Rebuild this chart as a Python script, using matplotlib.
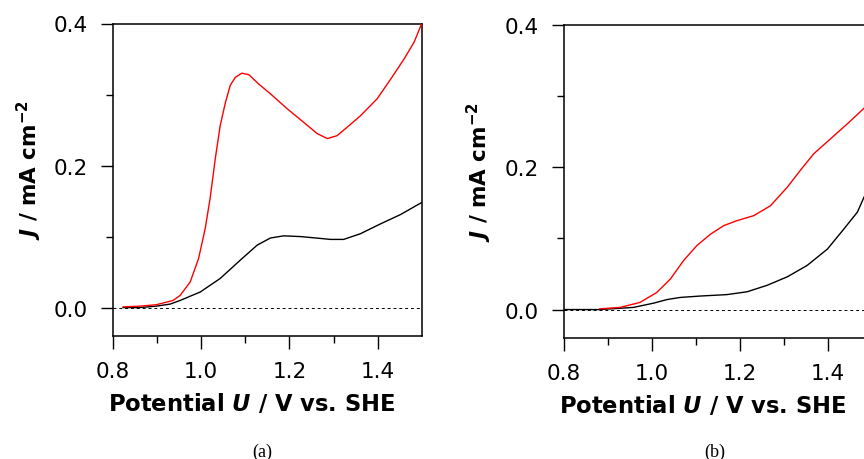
import numpy as np
import matplotlib
matplotlib.use("Agg")
import matplotlib.pyplot as plt

plt.rcParams['font.family'] = ['DejaVu Sans']
plt.rcParams['mathtext.fontset'] = 'custom'
plt.rcParams['mathtext.it'] = 'DejaVu Sans:italic:bold'
plt.rcParams['mathtext.rm'] = 'DejaVu Sans:bold'
plt.rcParams['mathtext.bf'] = 'DejaVu Sans:bold'

# panel (a)
a_red_u = [0.823, 0.86, 0.898, 0.936, 0.952, 0.975, 0.994, 1.009, 1.020, 1.032, 1.043,
           1.055, 1.066, 1.077, 1.092, 1.108, 1.130, 1.157, 1.195, 1.232, 1.263, 1.286,
           1.308, 1.331, 1.361, 1.399, 1.430, 1.460, 1.483, 1.5]
a_red_j = [0.001, 0.002, 0.004, 0.010, 0.017, 0.036, 0.069, 0.111, 0.153, 0.210, 0.256,
           0.289, 0.313, 0.324, 0.330, 0.328, 0.315, 0.301, 0.280, 0.261, 0.245, 0.238,
           0.242, 0.254, 0.270, 0.294, 0.322, 0.350, 0.374, 0.400]
a_blk_u = [0.823, 0.86, 0.898, 0.93, 0.952, 0.998, 1.043, 1.089, 1.127, 1.157, 1.187,
           1.225, 1.260, 1.293, 1.323, 1.361, 1.407, 1.452, 1.5]
a_blk_j = [0.000, 0.000, 0.002, 0.005, 0.010, 0.022, 0.041, 0.067, 0.088, 0.098, 0.101,
           0.100, 0.098, 0.096, 0.096, 0.104, 0.118, 0.131, 0.148]

# panel (b)
b_red_u = [0.882, 0.928, 0.973, 1.011, 1.042, 1.072, 1.102, 1.133, 1.163, 1.193, 1.231,
           1.269, 1.307, 1.337, 1.367, 1.405, 1.443, 1.481, 1.5]
b_red_j = [0.001, 0.003, 0.010, 0.024, 0.043, 0.069, 0.090, 0.106, 0.118, 0.125, 0.132,
           0.146, 0.172, 0.196, 0.219, 0.240, 0.261, 0.283, 0.294]
b_blk_u = [0.80, 0.882, 0.958, 1.004, 1.034, 1.064, 1.110, 1.170, 1.216, 1.261, 1.307,
           1.352, 1.398, 1.435, 1.466, 1.481, 1.5]
b_blk_j = [0.000, 0.000, 0.003, 0.009, 0.014, 0.017, 0.019, 0.021, 0.025, 0.034, 0.046,
           0.062, 0.085, 0.113, 0.137, 0.158, 0.180]

x_ticks = [0.8, 1.0, 1.2, 1.4]
x_minor = [0.9, 1.1, 1.3]
y_ticks = [0.0, 0.2, 0.4]
y_minor = [0.1, 0.3]

panels = [
    ("(a)", a_red_u, a_red_j, a_blk_u, a_blk_j, [113, 24.5, 308.7, 312.5], 262),
    ("(b)", b_red_u, b_red_j, b_blk_u, b_blk_j, [563.7, 26, 308.7, 313], 715),
]

W, H = 864, 460
fig = plt.figure(figsize=(W / 100, H / 100), dpi=100)

for name, ru, rj, bu, bj, box, cap_x in panels:
    l, t, w, h = box
    ax = fig.add_axes([l / W, 1 - (t + h) / H, w / W, h / H])
    ax.axhline(0, color='black', lw=0.7, ls=(0, (3, 3)), zorder=1)
    ax.plot(bu, bj, color='black', lw=1.0, zorder=2)
    ax.plot(ru, rj, color='red', lw=1.0, zorder=3)
    ax.set_xlim(0.8, 1.5)
    ax.set_ylim(-0.04, 0.4)
    ax.set_xticks(x_ticks)
    ax.set_xticks(x_minor, minor=True)
    ax.set_yticks(y_ticks)
    ax.set_yticks(y_minor, minor=True)
    ax.set_xticklabels(["%.1f" % v for v in x_ticks])
    ax.set_yticklabels(["%.1f" % v for v in y_ticks])
    ax.tick_params(which='major', direction='out', length=9, width=1.0, labelsize=15.5, pad=9)
    ax.tick_params(which='minor', direction='out', length=5, width=1.0)
    ax.tick_params(axis='y', which='major', length=9, pad=9)
    for s in ax.spines.values():
        s.set_linewidth(1.1)
    ax.set_xlabel("Potential $U$ / V vs. SHE", fontsize=16.3, fontweight='bold')
    ax.xaxis.set_label_coords(0.449, -0.175)
    ax.set_ylabel("$J$ / mA cm$^{-2}$", fontsize=15.5, fontweight='bold')
    ax.yaxis.set_label_coords(-0.225, 0.535)
    fig.text(cap_x / W, 1 - 452 / H, name, family='Liberation Serif', fontsize=13,
             ha='center', va='center')

fig.savefig("out.png", dpi=100)
